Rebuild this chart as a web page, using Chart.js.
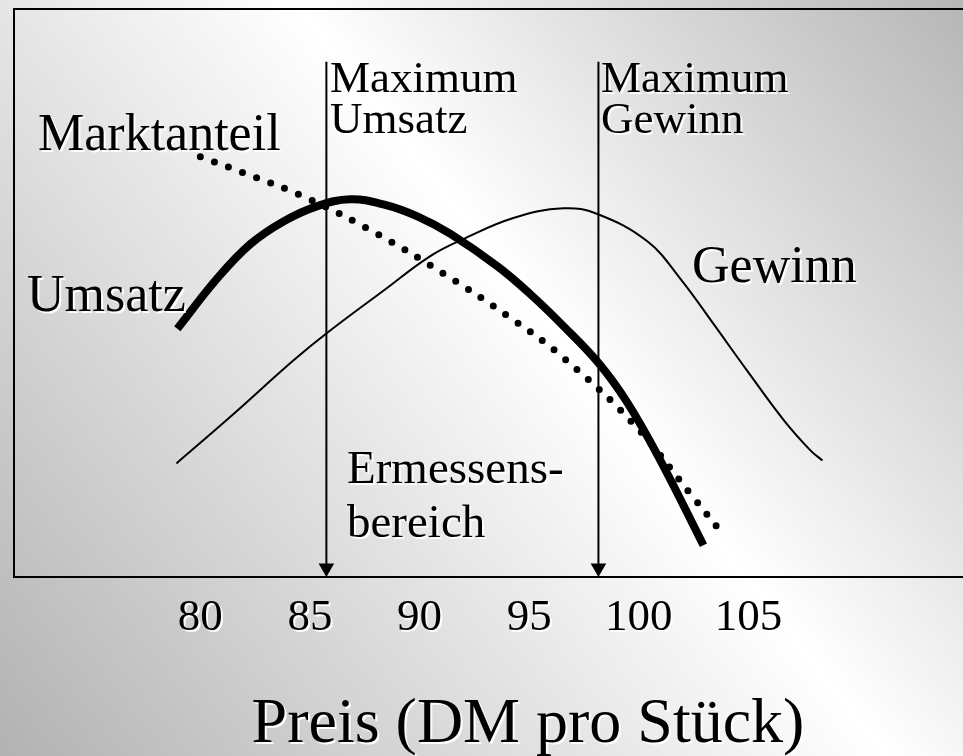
<!DOCTYPE html>
<html>
<head>
<meta charset="utf-8">
<script src="https://cdn.jsdelivr.net/npm/chart.js@4"></script>
<style>
  body { margin: 0; background: #fff; }
  canvas { display: block; }
</style>
</head>
<body>
<canvas id="myChart" width="963" height="756"></canvas>
<script>
// Werte (Preis in DM, Wert in relativen Einheiten 0..100)
const preisTicks = [80, 85, 90, 95, 100, 105];

const umsatzPreis = [78.95, 80.78, 82.28, 83.79, 85.34, 86.84, 88.35, 89.9, 91.41, 93.55, 95.05, 96.56, 98.16, 99.48, 100.99, 102.95];
const umsatzWert  = [43.7, 52.6, 58.6, 62.6, 65.3, 66.5, 65.6, 63.5, 60.4, 54.7, 49.8, 44.2, 37.7, 30.7, 20.5, 5.6];

const marktPreis = [80.0, 82.28, 84.88, 88.07, 91.18, 94.23, 96.56, 99.75, 102.49, 103.86];
const marktWert  = [74.0, 70.7, 66.7, 60.4, 53.2, 45.4, 38.6, 27.0, 14.0, 7.4];

const gewinnPreis = [78.91, 81.37, 84.24, 85.79, 88.35, 90.49, 92.0, 94.28, 96.56, 98.11, 100.39, 101.9, 103.4, 104.95, 106.64, 107.83, 108.38];
const gewinnWert  = [20.0, 28.2, 38.1, 43.0, 50.4, 56.5, 59.5, 63.2, 64.9, 63.9, 59.1, 52.5, 44.6, 36.3, 27.5, 22.3, 20.5];

const maxUmsatzPreis = 85.75;
const maxGewinnPreis = 98.16;
const pfeilOben = 90.7;
const pfeilUnten = 1.6;

const pts = (xs, ys) => xs.map((x, i) => ({ x: x, y: ys[i] }));
const serif = '"Liberation Serif", "Times New Roman", serif';

const beschriftungen = [
  { text: 'Marktanteil', x: 38, y: 150, size: 52 },
  { text: 'Umsatz', x: 27, y: 311, size: 52 },
  { text: 'Gewinn', x: 692, y: 282, size: 52 },
  { text: 'Maximum', x: 330, y: 92, size: 45 },
  { text: 'Umsatz', x: 330, y: 133, size: 45 },
  { text: 'Maximum', x: 601, y: 92, size: 45 },
  { text: 'Gewinn', x: 601, y: 133, size: 45 },
  { text: 'Ermessens-', x: 347, y: 483, size: 47 },
  { text: 'bereich', x: 347, y: 537, size: 47 }
];

function schatten(ctx, an) {
  ctx.shadowColor = an ? 'rgba(255,255,255,0.95)' : 'rgba(0,0,0,0)';
  ctx.shadowOffsetX = an ? 2 : 0;
  ctx.shadowOffsetY = an ? 2 : 0;
  ctx.shadowBlur = 0;
}

const folie = {
  id: 'folie',
  beforeDraw(chart) {
    const ctx = chart.ctx;
    const w = chart.width, h = chart.height;
    ctx.save();
    const g = ctx.createLinearGradient(0, h, w, 0);
    g.addColorStop(0, '#b2b2b2');
    g.addColorStop(0.57, '#ffffff');
    g.addColorStop(1, '#b6b6b6');
    ctx.fillStyle = g;
    ctx.fillRect(0, 0, w, h);
    ctx.restore();
    // Schatten fuer Achsenbeschriftung
    schatten(ctx, true);
  },
  beforeDatasetsDraw(chart) {
    const ctx = chart.ctx;
    schatten(ctx, false);
    const a = chart.chartArea;
    ctx.save();
    ctx.strokeStyle = '#000';
    ctx.lineWidth = 2;
    ctx.beginPath();
    ctx.moveTo(chart.width + 5, a.top);
    ctx.lineTo(a.left, a.top);
    ctx.lineTo(a.left, a.bottom);
    ctx.lineTo(chart.width + 5, a.bottom);
    ctx.stroke();
    ctx.restore();
  },
  afterDraw(chart) {
    const ctx = chart.ctx;
    ctx.save();
    schatten(ctx, true);
    ctx.fillStyle = '#000';
    ctx.textBaseline = 'alphabetic';
    ctx.textAlign = 'left';
    beschriftungen.forEach(b => {
      ctx.font = b.size + 'px ' + serif;
      ctx.fillText(b.text, b.x, b.y);
    });
    // Achsentitel
    ctx.font = '64px ' + serif;
    ctx.textAlign = 'center';
    ctx.fillText('Preis (DM pro Stück)', 528, 742);
    ctx.restore();
  }
};

const ctx = document.getElementById('myChart').getContext('2d');

new Chart(ctx, {
  type: 'line',
  data: {
    datasets: [
      {
        label: 'Umsatz',
        data: pts(umsatzPreis, umsatzWert),
        borderColor: '#000',
        borderWidth: 8,
        borderCapStyle: 'butt',
        tension: 0.4,
        pointRadius: 0
      },
      {
        label: 'Marktanteil',
        data: pts(marktPreis, marktWert),
        borderColor: '#000',
        borderWidth: 7,
        borderDash: [0, 15],
        borderCapStyle: 'round',
        tension: 0.4,
        pointRadius: 0
      },
      {
        label: 'Gewinn',
        data: pts(gewinnPreis, gewinnWert),
        borderColor: '#000',
        borderWidth: 2,
        tension: 0.4,
        pointRadius: 0
      },
      {
        label: 'Maximum Umsatz',
        data: [{ x: maxUmsatzPreis, y: pfeilOben }, { x: maxUmsatzPreis, y: pfeilUnten }],
        borderColor: '#000',
        backgroundColor: '#000',
        borderWidth: 2,
        pointStyle: 'triangle',
        pointRotation: 180,
        pointRadius: [0, 9],
        pointBorderWidth: 0
      },
      {
        label: 'Maximum Gewinn',
        data: [{ x: maxGewinnPreis, y: pfeilOben }, { x: maxGewinnPreis, y: pfeilUnten }],
        borderColor: '#000',
        backgroundColor: '#000',
        borderWidth: 2,
        pointStyle: 'triangle',
        pointRotation: 180,
        pointRadius: [0, 9],
        pointBorderWidth: 0
      }
    ]
  },
  options: {
    responsive: false,
    animation: false,
    layout: { padding: { left: 14, top: 7, right: 0, bottom: 0 } },
    scales: {
      x: {
        type: 'linear',
        min: 71.5,
        max: 114.38,
        afterBuildTicks: (scale) => { scale.ticks = preisTicks.map(v => ({ value: v })); },
        afterFit: (scale) => { scale.height = 179; },
        grid: { display: false, drawTicks: false },
        border: { display: false },
        ticks: {
          color: '#000',
          padding: 14,
          maxRotation: 0,
          autoSkip: false,
          font: { family: serif, size: 45 }
        }
      },
      y: {
        display: false,
        min: 0,
        max: 100
      }
    },
    plugins: {
      legend: { display: false },
      tooltip: { enabled: false }
    }
  },
  plugins: [folie]
});
</script>
</body>
</html>
